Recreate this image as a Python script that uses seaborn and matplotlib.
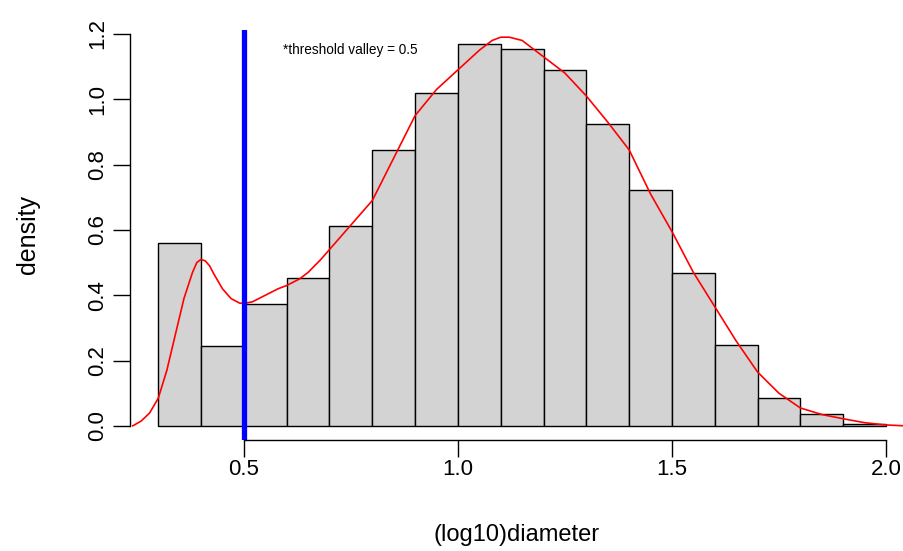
import numpy as np
import pandas as pd
import matplotlib
matplotlib.use("Agg")
import matplotlib.pyplot as plt
import seaborn as sns

# histogram bins (log10 diameter) and density heights
bin_edges = [0.3, 0.4, 0.5, 0.6, 0.7, 0.8, 0.9, 1.0, 1.1, 1.2, 1.3, 1.4, 1.5, 1.6, 1.7, 1.8, 1.9, 2.0]
bin_density = [0.56, 0.245, 0.373, 0.453, 0.612, 0.845, 1.019, 1.169, 1.154, 1.09,
               0.924, 0.722, 0.468, 0.248, 0.086, 0.037, 0.006]

# red density curve, read point by point
curve_x = [0.24, 0.26, 0.28, 0.30, 0.32, 0.34, 0.36, 0.38, 0.39, 0.40, 0.41, 0.42, 0.43,
           0.45, 0.47, 0.49, 0.50, 0.52, 0.55, 0.58, 0.60, 0.63, 0.65, 0.68, 0.70, 0.75,
           0.80, 0.85, 0.90, 0.95, 1.00, 1.05, 1.08, 1.10, 1.12, 1.15, 1.20, 1.25, 1.30,
           1.35, 1.40, 1.45, 1.50, 1.55, 1.60, 1.65, 1.70, 1.75, 1.80, 1.85, 1.90, 1.95,
           2.00, 2.05]
curve_y = [0.00, 0.015, 0.04, 0.085, 0.17, 0.28, 0.39, 0.47, 0.50, 0.51, 0.505, 0.49, 0.465,
           0.42, 0.39, 0.376, 0.375, 0.38, 0.40, 0.42, 0.43, 0.45, 0.47, 0.51, 0.54, 0.615,
           0.69, 0.82, 0.95, 1.03, 1.09, 1.15, 1.18, 1.19, 1.19, 1.18, 1.13, 1.08, 1.01,
           0.93, 0.845, 0.71, 0.595, 0.47, 0.365, 0.26, 0.165, 0.10, 0.055, 0.035, 0.022,
           0.01, 0.003, 0.0]

threshold = 0.5
x_ticks = [0.5, 1.0, 1.5, 2.0]
y_ticks = [0.0, 0.2, 0.4, 0.6, 0.8, 1.0, 1.2]

sns.set_style("white")
plt.rcParams['font.family'] = ['Liberation Sans', 'DejaVu Sans']
plt.rcParams.update({"text.color": "black", "axes.labelcolor": "black",
                     "xtick.color": "black", "ytick.color": "black",
                     "axes.edgecolor": "black"})

fig = plt.figure(figsize=(9.04, 5.51), dpi=100)
ax = fig.add_axes([130 / 904, 111 / 551, 1 - 130 / 904, (440 - 30) / 551])

mids = [(a + b) / 2 for a, b in zip(bin_edges[:-1], bin_edges[1:])]
sns.histplot(x=mids, weights=bin_density, bins=bin_edges, stat="count",
             color="#d3d3d3", edgecolor="black", linewidth=1.0, alpha=1, ax=ax)

sns.lineplot(x=curve_x, y=curve_y, color="red", linewidth=1.2, ax=ax)

ax.axvline(threshold, color="blue", linewidth=3.8)
ax.text(0.591, 1.151, "*threshold valley = 0.5", fontsize=9.8, va="center", ha="left")

ax.set_xlim(0.234, 2.042)
ax.set_ylim(-0.043, 1.212)

# R-style axes
for s in ["top", "right"]:
    ax.spines[s].set_visible(False)
ax.spines["left"].set_bounds(0, 1.2)
ax.spines["bottom"].set_bounds(0.5, 2.0)
ax.spines["left"].set_linewidth(1.0)
ax.spines["bottom"].set_linewidth(1.0)

ax.set_xticks(x_ticks)
ax.set_xticklabels(["0.5", "1.0", "1.5", "2.0"])
ax.set_yticks(y_ticks)
ax.set_yticklabels(["0.0", "0.2", "0.4", "0.6", "0.8", "1.0", "1.2"], rotation=90, va="center")
ax.tick_params(axis="both", direction="out", length=12, width=1.0, labelsize=16,
               left=True, bottom=True)
ax.tick_params(axis="x", pad=2)
ax.tick_params(axis="y", pad=4)

ax.set_xlabel("(log10)diameter", fontsize=17, labelpad=31)
ax.set_ylabel("density", fontsize=18, labelpad=34)

fig.savefig("out.png", dpi=100)
